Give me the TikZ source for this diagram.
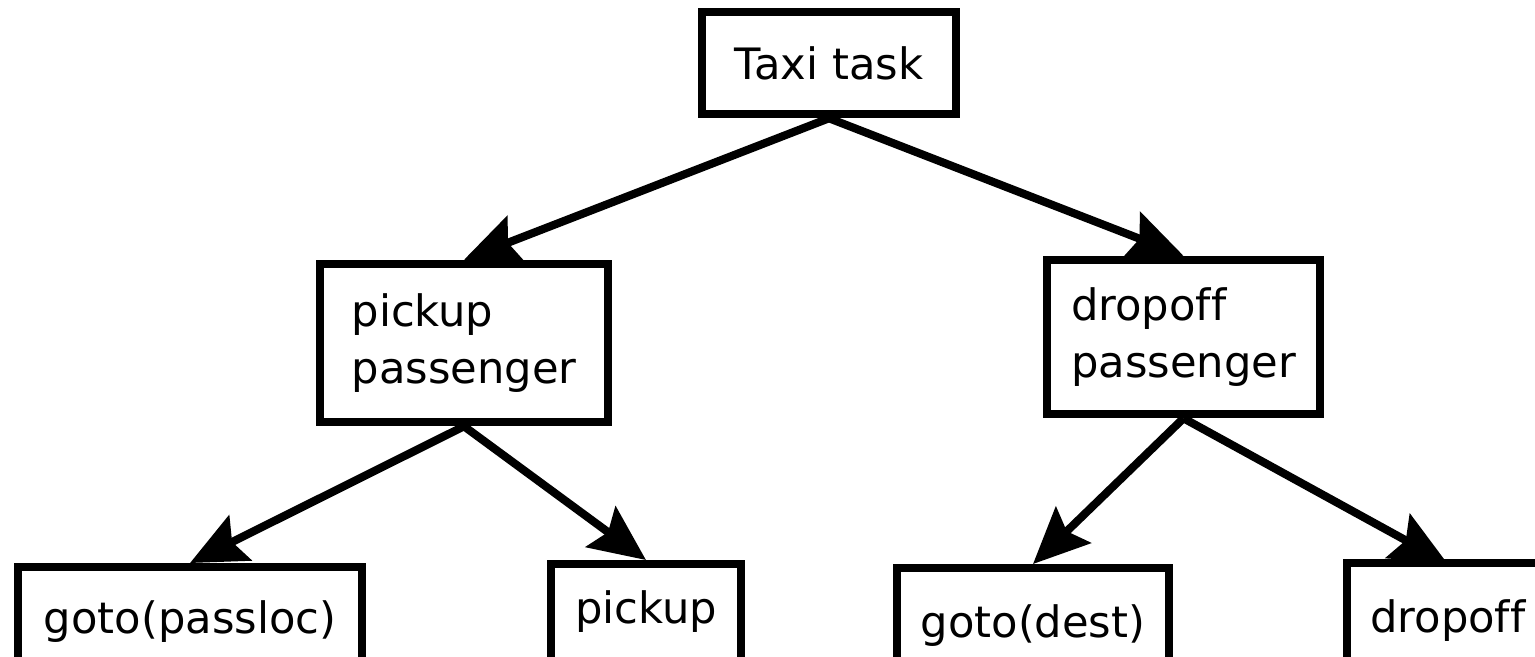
\documentclass[tikz,border=0pt]{standalone}
\usepackage{fontspec}
\setmainfont[Ligatures=NoCommon]{DejaVu Sans}
\usepackage{tikz}
\usetikzlibrary{arrows.meta}
\tikzstyle{Box}=[rectangle,draw=black,line width=2.4pt,inner sep=0pt,
font=\fontsize{12.3}{16}\selectfont]
\tikzstyle{Leaf}=[Box,anchor=north,text depth=0.7cm]
\tikzstyle{Edge}=[draw=black,line width=2.3pt,
-{Stealth[length=5.6mm,width=5mm,inset=0.9mm]}]

\begin{document}
\begin{tikzpicture}[x=0.01cm,y=-0.01cm]
        \useasboundingbox(0,0)rectangle(1535,656);
        \clip(0,0)rectangle(1535,656);
        \node[Box,minimum width=2.54cm,minimum height=1.02cm](taxi)at(829,63)
            {Taxi task};
        \node[Box,align=left,minimum width=2.88cm,minimum height=1.58cm](pick)
            at(464,343){pickup\\passenger};
        \node[Box,align=left,minimum width=2.73cm,minimum height=1.54cm](drop)
            at(1183.5,337){dropoff\\passenger};
        \node[Leaf,text height=0.66cm,minimum width=3.44cm](pickgoto)at(190,563)
            {goto(passloc)};
        \node[Leaf,text height=0.59cm,minimum width=1.90cm](pickact)at(646,560)
            {pickup};
        \node[Leaf,text height=0.69cm,minimum width=2.72cm](dropgoto)at(1033,564)
            {goto(dest)};
        % runs off the right edge, so only top and left sides
        \node[Leaf,draw=none,anchor=north west,inner xsep=0.19cm,text width=2.5cm,
            align=left,text height=0.65cm](dropact)at(1347,563){dropoff};
        \draw[line width=2.4pt]([yshift=-1cm]dropact.south west)
            --(dropact.north west)--(dropact.north east);
        \draw[Edge](taxi.south)--(pick.north);
        \draw[Edge](taxi.south)--(drop.north);
        \draw[Edge](pick.south)--(pickgoto.north);
        \draw[Edge](pick.south)--(pickact.north);
        \draw[Edge](drop.south)--(dropgoto.north);
        \draw[Edge](drop.south)--([xshift=1cm]dropact.north west);
    \end{tikzpicture}
\end{document}
